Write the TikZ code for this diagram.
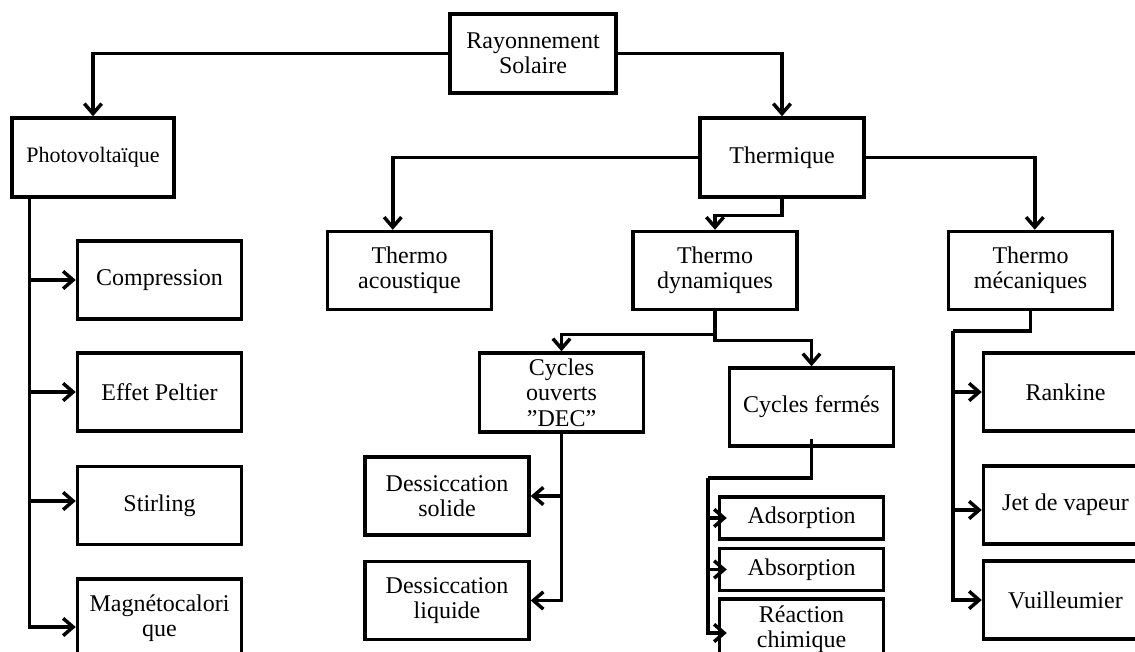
\documentclass[tikz,border=0pt]{standalone}
\usepackage{fontspec}
\setmainfont{Liberation Serif}
\usetikzlibrary{arrows.meta,calc}
\begin{document}
\begin{tikzpicture}[x=0.75pt,y=-0.75pt,
  box/.style={draw,line width=2.6pt,minimum width=123pt,minimum height=58.5pt,
    inner sep=0pt,align=center,font=\fontsize{18}{19}\selectfont},
  smallbox/.style={box,minimum height=31.5pt},
  conn/.style={line width=2.6pt},
  arr/.style={conn,-{Straight Barb[length=7.5pt,width=13pt]}}]
\useasboundingbox (0,0) rectangle (1135,651);
\clip (0,0) rectangle (1135,651);
% nodes
\node[box,minimum width=124.5pt,minimum height=59.25pt] (rs) at (533,53.5) {Rayonnement\\Solaire};
\node[box,minimum width=121.5pt,minimum height=59.25pt,font=\fontsize{16.5}{18}\selectfont] (pv) at (93,157.5) {Photovoltaïque};
\node[box,minimum height=59.25pt] (th) at (782,157.5) {Thermique};
\node[box] (ta) at (409.5,270.5) {Thermo\\acoustique};
\node[box] (td) at (715,270.5) {Thermo\\dynamiques};
\node[box] (tm) at (1030.5,270.5) {Thermo\\mécaniques};
\node[box,minimum height=59.25pt] (co) at (561.5,392.5) {Cycles\\ouverts\\''DEC''};
\node[box] (cf) at (811.5,407) {Cycles fermés};
\node[box] (ds) at (447,496) {Dessiccation\\solide};
\node[box] (dl) at (447,600.5) {Dessiccation\\liquide};
\node[smallbox] (ads) at (801.5,518) {Adsorption};
\node[smallbox] (abs) at (801.5,569.5) {Absorption};
\node[box,minimum height=45.75pt] (rc) at (801.5,629.5) {Réaction\\chimique};
\node[box] (comp) at (159.5,280) {Compression};
\node[box] (ep) at (159.5,392) {Effet Peltier};
\node[box] (st) at (159.5,505.5) {Stirling};
\node[box] (mc) at (159.5,618) {Magnétocalori\\que};
\node[box] (rk) at (1065.5,392) {Rankine};
\node[box] (jv) at (1065.5,505) {Jet de vapeur};
\node[box] (vu) at (1065.5,600) {Vuilleumier};
% junctions
\coordinate (pvj) at ($(pv.south west)+(19,0)$);
\coordinate (cfj) at (708,478);
\coordinate (tmj) at (953,331);
% connectors
\draw[arr] (rs.west) -| (pv.north);
\draw[arr] (rs.east) -| (th.north);
\draw[arr] (th.west) -| ($(ta.north west)+(67,0)$);
\draw[arr] (th.east) -| ($(tm.north west)+(88,0)$);
\draw[arr] (th.south) -- ++(0,17) -| (td.north);
\draw[arr] (td.south) -- ++(0,23) -| (co.north);
\draw[arr] (td.south) -- ++(0,29) -| (cf.north);
\draw[arr] (co.south) |- (ds.east);
\draw[arr] (co.south) |- (dl.east);
\draw[conn] ($(cf.south)+(0,-9)$) |- (cfj);
\draw[arr] (cfj) |- ($(ads.west)+(9,0)$);
\draw[arr] (cfj) |- ($(abs.west)+(9,0)$);
\draw[arr] (cfj) |- ($(rc.west)+(9,3.5)$);
\draw[conn] (tm.south) |- (tmj);
\draw[arr] (tmj) |- (rk.west);
\draw[arr] (tmj) |- ($(jv.west)+(0,5)$);
\draw[arr] (tmj) |- (vu.west);
\draw[arr] (pvj) |- (comp.west);
\draw[arr] (pvj) |- (ep.west);
\draw[arr] (pvj) |- ($(st.west)+(0,-4.5)$);
\draw[arr] (pvj) |- ($(mc.west)+(0,9)$);
\end{tikzpicture}
\end{document}
